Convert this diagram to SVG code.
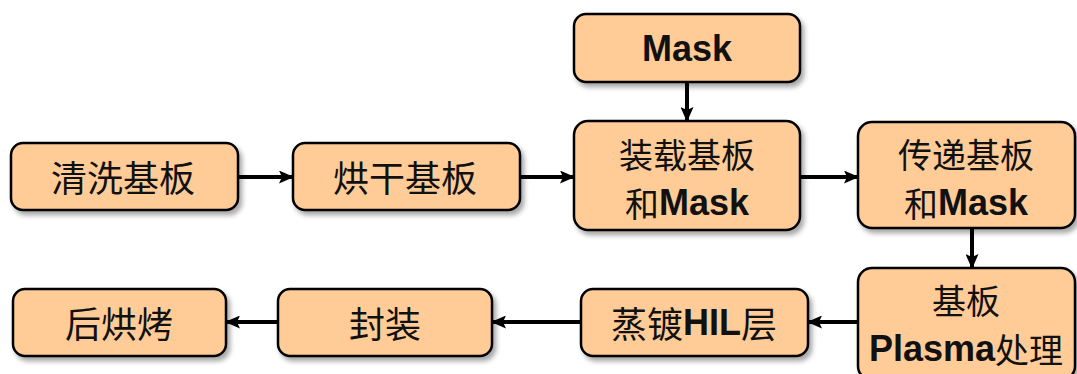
<svg xmlns="http://www.w3.org/2000/svg" width="1077" height="374" viewBox="0 0 1077 374">
<style>
.box{fill:#FFCB96;stroke:#000;stroke-width:2.5}
.cn{font-family:"Noto Sans CJK SC",sans-serif;font-size:36px;fill:#111;text-anchor:middle;dominant-baseline:central}
.sm{font-size:34px}
.b{font-family:"Liberation Sans",Arial,sans-serif;font-weight:bold;font-size:36px}
.c{stroke:#000;stroke-width:4;fill:none;marker-end:url(#ah)}
</style>
<defs>
<filter id="sh" x="-10%" y="-10%" width="125%" height="130%">
<feDropShadow dx="3" dy="4" stdDeviation="2.5" flood-color="#000" flood-opacity="0.35"/>
</filter>
<marker id="ah" markerUnits="userSpaceOnUse" markerWidth="15" markerHeight="13" refX="14" refY="6.5" orient="auto">
<path d="M0,0 L15,6.5 L0,13 L3,6.5 Z" fill="#000"/>
</marker>
</defs>
<rect width="1077" height="374" fill="#fff"/>
<g id="connectors">
<line class="c" x1="239" y1="177" x2="293" y2="177"/>
<line class="c" x1="521" y1="177" x2="574" y2="177"/>
<line class="c" x1="801" y1="177" x2="858" y2="177"/>
<line class="c" x1="687" y1="83" x2="687" y2="121"/>
<line class="c" x1="972" y1="229" x2="972" y2="268"/>
<line class="c" x1="857" y1="322" x2="808" y2="322"/>
<line class="c" x1="580" y1="322" x2="492" y2="322"/>
<line class="c" x1="277" y1="322" x2="226" y2="322"/>
</g>
<g id="n1"><rect class="box" filter="url(#sh)" x="11" y="143" width="227" height="67" rx="12"/><text class="cn" x="123" y="176">清洗基板</text></g>
<g id="n2"><rect class="box" filter="url(#sh)" x="293" y="143" width="227" height="67" rx="12"/><text class="cn" x="405" y="176">烘干基板</text></g>
<g id="n3"><rect class="box" filter="url(#sh)" x="574" y="14" width="226" height="68" rx="12"/><text class="cn b" x="687" y="48">Mask</text></g>
<g id="n4"><rect class="box" filter="url(#sh)" x="574" y="121" width="226" height="109" rx="14"/><text class="cn sm" x="687" y="153">装载基板</text><text class="cn sm" x="687" y="202">和<tspan class="b">Mask</tspan></text></g>
<g id="n5"><rect class="box" filter="url(#sh)" x="858" y="122" width="217" height="106" rx="14"/><text class="cn sm" x="966" y="153">传递基板</text><text class="cn sm" x="966" y="202">和<tspan class="b">Mask</tspan></text></g>
<g id="n6"><rect class="box" filter="url(#sh)" x="858" y="268" width="217" height="112" rx="14"/><text class="cn sm" x="966" y="299">基板</text><text class="cn sm" x="966" y="348"><tspan class="b">Plasma</tspan>处理</text></g>
<g id="n7"><rect class="box" filter="url(#sh)" x="581" y="289" width="227" height="67" rx="12"/><text class="cn" x="694" y="322">蒸镀<tspan class="b">HIL</tspan>层</text></g>
<g id="n8"><rect class="box" filter="url(#sh)" x="278" y="289" width="214" height="67" rx="12"/><text class="cn" x="385" y="322">封装</text></g>
<g id="n9"><rect class="box" filter="url(#sh)" x="13" y="289" width="213" height="67" rx="12"/><text class="cn" x="119" y="322">后烘烤</text></g>
</svg>
